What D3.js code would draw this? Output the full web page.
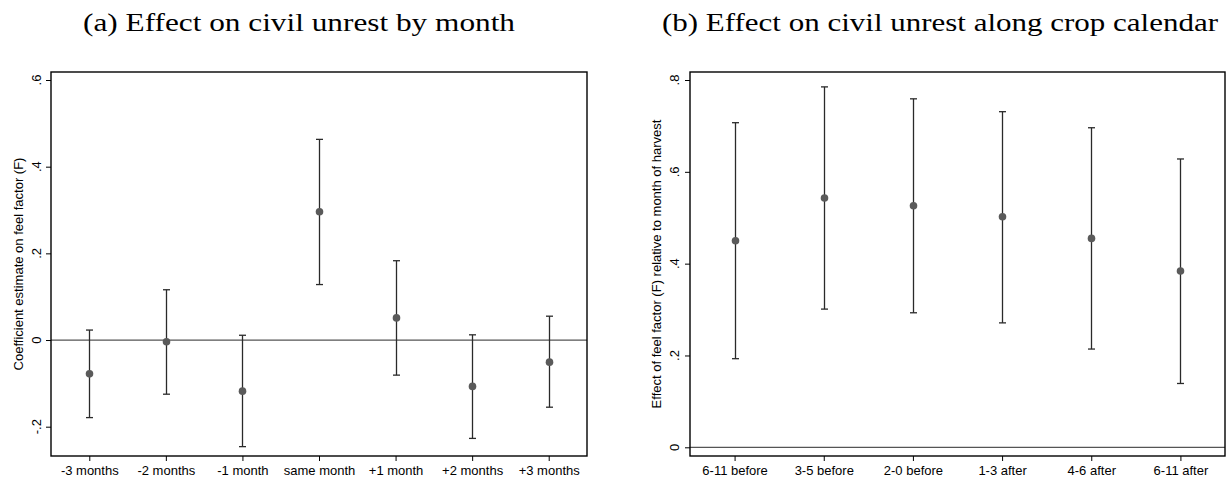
<!DOCTYPE html>
<html>
<head>
<meta charset="utf-8">
<script src="https://cdn.jsdelivr.net/npm/d3@7"></script>
<style>
  html, body { margin: 0; padding: 0; background: #fff; }
  svg { display: block; }
</style>
</head>
<body>
<svg id="chart" width="1231" height="480"></svg>
<script>
// ---- Data ----
const monthCategories = ["-3 months", "-2 months", "-1 month", "same month", "+1 month", "+2 months", "+3 months"];
const monthEstimate = [-0.078, -0.004, -0.118, 0.296, 0.051, -0.107, -0.051];
const monthUpper    = [0.023, 0.116, 0.011, 0.463, 0.183, 0.012, 0.055];
const monthLower    = [-0.179, -0.125, -0.246, 0.128, -0.081, -0.227, -0.155];
const monthTicks    = [-0.2, 0, 0.2, 0.4, 0.6];
const monthTickLabels = ["-.2", "0", ".2", ".4", ".6"];

const cropCategories = ["6-11 before", "3-5 before", "2-0 before", "1-3 after", "4-6 after", "6-11 after"];
const cropEstimate = [0.450, 0.543, 0.526, 0.502, 0.455, 0.384];
const cropUpper    = [0.707, 0.785, 0.759, 0.731, 0.696, 0.628];
const cropLower    = [0.193, 0.301, 0.293, 0.271, 0.214, 0.139];
const cropTicks    = [0, 0.2, 0.4, 0.6, 0.8];
const cropTickLabels = ["0", ".2", ".4", ".6", ".8"];

const svg = d3.select("#chart");

function panel(opts) {
  const { left, right, top, bottom, yDomain, cats, est, up, lo, ticks, tickLabels,
          yTitle, title, titleX, titleW, tickLabelX, yTitleX } = opts;
  const g = svg.append("g");

  const x = d3.scalePoint().domain(cats).range([left, right]).padding(0.5);
  const y = d3.scaleLinear().domain(yDomain).range([bottom, top]);

  // title
  g.append("text")
    .attr("x", titleX).attr("y", 31)
    .attr("font-family", "'Liberation Serif', 'DejaVu Serif', serif")
    .attr("font-size", 25.5)
    .attr("textLength", titleW)
    .attr("lengthAdjust", "spacingAndGlyphs")
    .attr("fill", "#000")
    .text(title);

  // zero line
  g.append("line")
    .attr("x1", left).attr("x2", right)
    .attr("y1", y(0)).attr("y2", y(0))
    .attr("stroke", "#555").attr("stroke-width", 1.2);

  // error bars
  const capW = 3.5;
  const bars = g.append("g");
  cats.forEach((c, i) => {
    const cx = Math.round(x(c)) + 0.5;
    bars.append("line").attr("x1", cx).attr("x2", cx)
      .attr("y1", y(up[i])).attr("y2", y(lo[i]))
      .attr("stroke", "#2a2a2a").attr("stroke-width", 1.3);
    [up[i], lo[i]].forEach(v => {
      bars.append("line").attr("x1", cx - capW).attr("x2", cx + capW)
        .attr("y1", y(v)).attr("y2", y(v))
        .attr("stroke", "#2a2a2a").attr("stroke-width", 1.3);
    });
    bars.append("circle").attr("cx", cx).attr("cy", y(est[i])).attr("r", 3.8)
      .attr("fill", "#5a5a5a");
  });

  // frame
  g.append("rect")
    .attr("x", left).attr("y", top)
    .attr("width", right - left).attr("height", bottom - top)
    .attr("fill", "none").attr("stroke", "#000").attr("stroke-width", 1.4);

  // y axis ticks
  const yAxis = d3.axisLeft(y).tickValues(ticks).tickSize(5).tickFormat("");
  const ya = g.append("g").attr("transform", `translate(${left},0)`).call(yAxis);
  ya.select(".domain").remove();
  ya.selectAll(".tick line").attr("stroke", "#000").attr("stroke-width", 1);
  ticks.forEach((t, i) => {
    g.append("text")
      .attr("transform", `translate(${tickLabelX},${y(t)}) rotate(-90)`)
      .attr("text-anchor", "middle")
      .attr("font-family", "'Liberation Sans', Arial, sans-serif")
      .attr("font-size", 13)
      .attr("fill", "#000")
      .text(tickLabels[i]);
  });

  // x axis ticks
  const xAxis = d3.axisBottom(x).tickSize(5).tickPadding(5);
  const xa = g.append("g").attr("transform", `translate(0,${bottom})`).call(xAxis);
  xa.select(".domain").remove();
  xa.selectAll(".tick line").attr("stroke", "#000").attr("stroke-width", 1);
  xa.selectAll(".tick text")
    .attr("font-family", "'Liberation Sans', Arial, sans-serif")
    .attr("font-size", 13)
    .attr("fill", "#000");

  // y title
  g.append("text")
    .attr("transform", `translate(${yTitleX},${(top + bottom) / 2}) rotate(-90)`)
    .attr("text-anchor", "middle")
    .attr("font-family", "'Liberation Sans', Arial, sans-serif")
    .attr("font-size", 13)
    .attr("fill", "#000")
    .text(yTitle);
}

// Left panel: 0.6 at y=80, -0.2 at y=426.7
const lScale = (426.7 - 80) / 0.8;
panel({
  left: 51, right: 587, top: 72, bottom: 456,
  yDomain: [-0.2 - (456 - 426.7) / lScale, 0.6 + (80 - 72) / lScale],
  cats: monthCategories, est: monthEstimate, up: monthUpper, lo: monthLower,
  ticks: monthTicks, tickLabels: monthTickLabels,
  yTitle: "Coefficient estimate on feel factor (F)",
  title: "(a) Effect on civil unrest by month", titleX: 83, titleW: 432,
  tickLabelX: 41, yTitleX: 23
});

// Right panel: 0.8 at y=80, 0 at y=447.3
const rScale = (447.3 - 80) / 0.8;
panel({
  left: 690, right: 1225, top: 72, bottom: 456,
  yDomain: [0 - (456 - 447.3) / rScale, 0.8 + (80 - 72) / rScale],
  cats: cropCategories, est: cropEstimate, up: cropUpper, lo: cropLower,
  ticks: cropTicks, tickLabels: cropTickLabels,
  yTitle: "Effect of feel factor (F) relative to month of harvest",
  title: "(b) Effect on civil unrest along crop calendar", titleX: 662, titleW: 556,
  tickLabelX: 679, yTitleX: 661
});
</script>
</body>
</html>
